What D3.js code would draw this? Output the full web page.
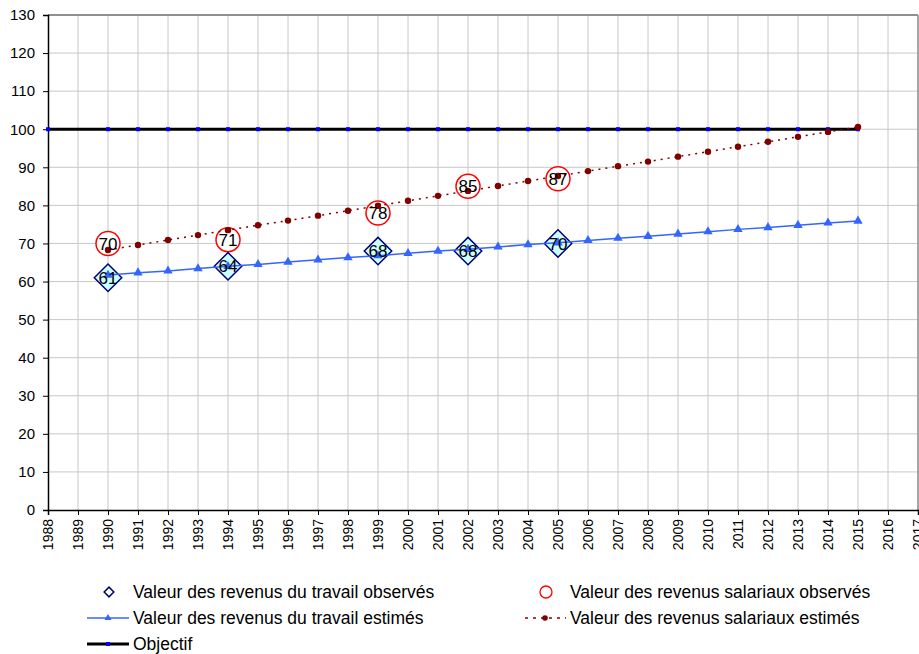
<!DOCTYPE html>
<html>
<head>
<meta charset="utf-8">
<script src="https://cdn.jsdelivr.net/npm/d3@7"></script>
<style>
body { margin: 0; background: #fff; }
svg { font-family: "Liberation Sans", Arial, sans-serif; }
</style>
</head>
<body>
<div id="chart"></div>
<script>
// data
var years = d3.range(1988, 2018);
var estYears = d3.range(1990, 2016);
var travailEst = [61.7, 62.3, 62.8, 63.4, 64.0, 64.5, 65.1, 65.7, 66.3, 66.8, 67.4, 68.0, 68.5, 69.1, 69.7, 70.2, 70.8, 71.4, 71.9, 72.5, 73.1, 73.7, 74.2, 74.8, 75.4, 75.9];
var salariauxEst = [68.3, 69.6, 70.9, 72.2, 73.5, 74.8, 76.0, 77.3, 78.6, 79.9, 81.2, 82.5, 83.8, 85.1, 86.4, 87.7, 89.0, 90.3, 91.5, 92.8, 94.1, 95.4, 96.7, 98.0, 99.3, 100.6];
var obsYears = [1990, 1994, 1999, 2002, 2005];
var travailObs = [61, 64, 68, 68, 70];
var salariauxObs = [70, 71, 78, 85, 87];
var objYears = [1988].concat(d3.range(1990, 2016));
var objectif = objYears.map(function () { return 100; });
var yTicks = d3.range(0, 140, 10);

var width = 919, height = 654;
var marginLeft = 48, marginRight = 1, marginTop = 15, plotBottom = 510;

var svg = d3.select("#chart").append("svg")
    .attr("width", width)
    .attr("height", height);

var x = d3.scaleLinear().domain([1988, 2017]).range([marginLeft, width - marginRight]);
var y = d3.scaleLinear().domain([0, 130]).range([plotBottom, marginTop]);

// grid
svg.append("g").selectAll("line")
    .data(years.slice(1))
    .enter().append("line")
    .attr("x1", function (d) { return x(d); })
    .attr("x2", function (d) { return x(d); })
    .attr("y1", y(0)).attr("y2", y(130))
    .attr("stroke", "#c8c8c8").attr("stroke-width", 1);
svg.append("g").selectAll("line")
    .data(yTicks.slice(1))
    .enter().append("line")
    .attr("x1", x(1988)).attr("x2", x(2017))
    .attr("y1", function (d) { return y(d); })
    .attr("y2", function (d) { return y(d); })
    .attr("stroke", function (d) { return d == 130 ? "#909090" : "#c8c8c8"; })
    .attr("stroke-width", function (d) { return d == 130 ? 2 : 1; });
svg.append("line")
    .attr("x1", x(2017)).attr("x2", x(2017))
    .attr("y1", y(0)).attr("y2", y(130))
    .attr("stroke", "#909090").attr("stroke-width", 1.5);

// axes
var yAxis = d3.axisLeft(y).tickValues(yTicks).tickSize(5).tickPadding(8);
var gy = svg.append("g")
    .attr("transform", "translate(" + x(1988) + ",0)")
    .call(yAxis);
gy.select(".domain").attr("stroke", "#000").attr("stroke-width", 1.5);
gy.selectAll("text").style("font-size", "15px").attr("fill", "#000").attr("font-family", "Liberation Sans, Arial, sans-serif");

var xAxis = d3.axisBottom(x).tickValues(years).tickSize(5).tickFormat(d3.format("d"));
var gx = svg.append("g")
    .attr("transform", "translate(0," + y(0) + ")")
    .call(xAxis);
gx.select(".domain").attr("stroke", "#000").attr("stroke-width", 1.5);
gx.selectAll("text")
    .attr("transform", "rotate(-90)")
    .attr("x", -9).attr("y", 0).attr("dy", "0.35em")
    .style("text-anchor", "end")
    .style("font-size", "14px")
    .attr("fill", "#000")
    .attr("font-family", "Liberation Sans, Arial, sans-serif");

// observed salariaux circles
svg.append("g").selectAll("circle")
    .data(obsYears)
    .enter().append("circle")
    .attr("cx", function (d) { return x(d); })
    .attr("cy", function (d, i) { return y(salariauxObs[i]); })
    .attr("r", 12)
    .attr("fill", "#fff")
    .attr("stroke", "#ff0000").attr("stroke-width", 1.5);

// observed travail diamonds
var diamond = d3.symbol().type(d3.symbolDiamond2).size(480);
svg.append("g").selectAll("path")
    .data(obsYears)
    .enter().append("path")
    .attr("d", diamond)
    .attr("transform", function (d, i) { return "translate(" + x(d) + "," + y(travailObs[i]) + ")"; })
    .attr("fill", "#ccffff")
    .attr("stroke", "#000080").attr("stroke-width", 1.5);

// objective line
var objLine = d3.line().x(function (d) { return x(d); }).y(function (d, i) { return y(objectif[i]); });
svg.append("path").datum(objYears)
    .attr("d", objLine)
    .attr("fill", "none").attr("stroke", "#000").attr("stroke-width", 3);
svg.append("g").selectAll("rect")
    .data(objYears)
    .enter().append("rect")
    .attr("x", function (d) { return x(d) - 2; })
    .attr("y", function (d, i) { return y(objectif[i]) - 2; })
    .attr("width", 4).attr("height", 4)
    .attr("fill", "#0000ff");

// estimated travail
var travLine = d3.line().x(function (d) { return x(d); }).y(function (d, i) { return y(travailEst[i]); });
svg.append("path").datum(estYears)
    .attr("d", travLine)
    .attr("fill", "none").attr("stroke", "#3366ff").attr("stroke-width", 1.5);
var tri = d3.symbol().type(d3.symbolTriangle).size(38);
svg.append("g").selectAll("path")
    .data(estYears)
    .enter().append("path")
    .attr("d", tri)
    .attr("transform", function (d, i) { return "translate(" + x(d) + "," + y(travailEst[i]) + ")"; })
    .attr("fill", "#3366ff");

// estimated salariaux
var salLine = d3.line().x(function (d) { return x(d); }).y(function (d, i) { return y(salariauxEst[i]); });
svg.append("path").datum(estYears)
    .attr("d", salLine)
    .attr("fill", "none").attr("stroke", "#800000").attr("stroke-width", 1.5)
    .attr("stroke-dasharray", "2,5");
svg.append("g").selectAll("circle")
    .data(estYears)
    .enter().append("circle")
    .attr("cx", function (d) { return x(d); })
    .attr("cy", function (d, i) { return y(salariauxEst[i]); })
    .attr("r", 3.2)
    .attr("fill", "#800000");

// labels
svg.append("g").selectAll("text")
    .data(obsYears)
    .enter().append("text")
    .attr("x", function (d) { return x(d); })
    .attr("y", function (d, i) { return y(salariauxObs[i]); })
    .attr("dy", "0.36em")
    .style("text-anchor", "middle")
    .style("font-size", "17px")
    .attr("fill", "#000")
    .text(function (d, i) { return salariauxObs[i]; });
svg.append("g").selectAll("text")
    .data(obsYears)
    .enter().append("text")
    .attr("x", function (d) { return x(d); })
    .attr("y", function (d, i) { return y(travailObs[i]); })
    .attr("dy", "0.36em")
    .style("text-anchor", "middle")
    .style("font-size", "17px")
    .attr("fill", "#000")
    .text(function (d, i) { return travailObs[i]; });

// legend
var legend = svg.append("g").style("font-size", "17.5px").attr("fill", "#000");
function legendText(tx, ty, label) {
    legend.append("text").attr("x", tx).attr("y", ty).attr("dy", "0.36em").text(label);
}
// row 1
legend.append("path").attr("d", d3.symbol().type(d3.symbolDiamond2).size(60))
    .attr("transform", "translate(109,592)")
    .attr("fill", "#fff").attr("stroke", "#000080").attr("stroke-width", 1.5);
legendText(133, 592, "Valeur des revenus du travail observés");
legend.append("circle").attr("cx", 546).attr("cy", 592).attr("r", 6)
    .attr("fill", "#fff").attr("stroke", "#ff0000").attr("stroke-width", 1.3);
legendText(570, 592, "Valeur des revenus salariaux observés");
// row 2
legend.append("line").attr("x1", 87).attr("x2", 129).attr("y1", 618).attr("y2", 618)
    .attr("stroke", "#3366ff").attr("stroke-width", 1.5);
legend.append("path").attr("d", d3.symbol().type(d3.symbolTriangle).size(22))
    .attr("transform", "translate(108,618)").attr("fill", "#3366ff");
legendText(133, 618, "Valeur des revenus du travail estimés");
legend.append("line").attr("x1", 525).attr("x2", 566).attr("y1", 618).attr("y2", 618)
    .attr("stroke", "#800000").attr("stroke-width", 1.5).attr("stroke-dasharray", "3,5");
legend.append("circle").attr("cx", 545).attr("cy", 618).attr("r", 2.8).attr("fill", "#800000");
legendText(570, 618, "Valeur des revenus salariaux estimés");
// row 3
legend.append("line").attr("x1", 87).attr("x2", 129).attr("y1", 644).attr("y2", 644)
    .attr("stroke", "#000").attr("stroke-width", 3);
legend.append("rect").attr("x", 106).attr("y", 642).attr("width", 4).attr("height", 4).attr("fill", "#0000ff");
legendText(133, 644, "Objectif");
</script>
</body>
</html>
